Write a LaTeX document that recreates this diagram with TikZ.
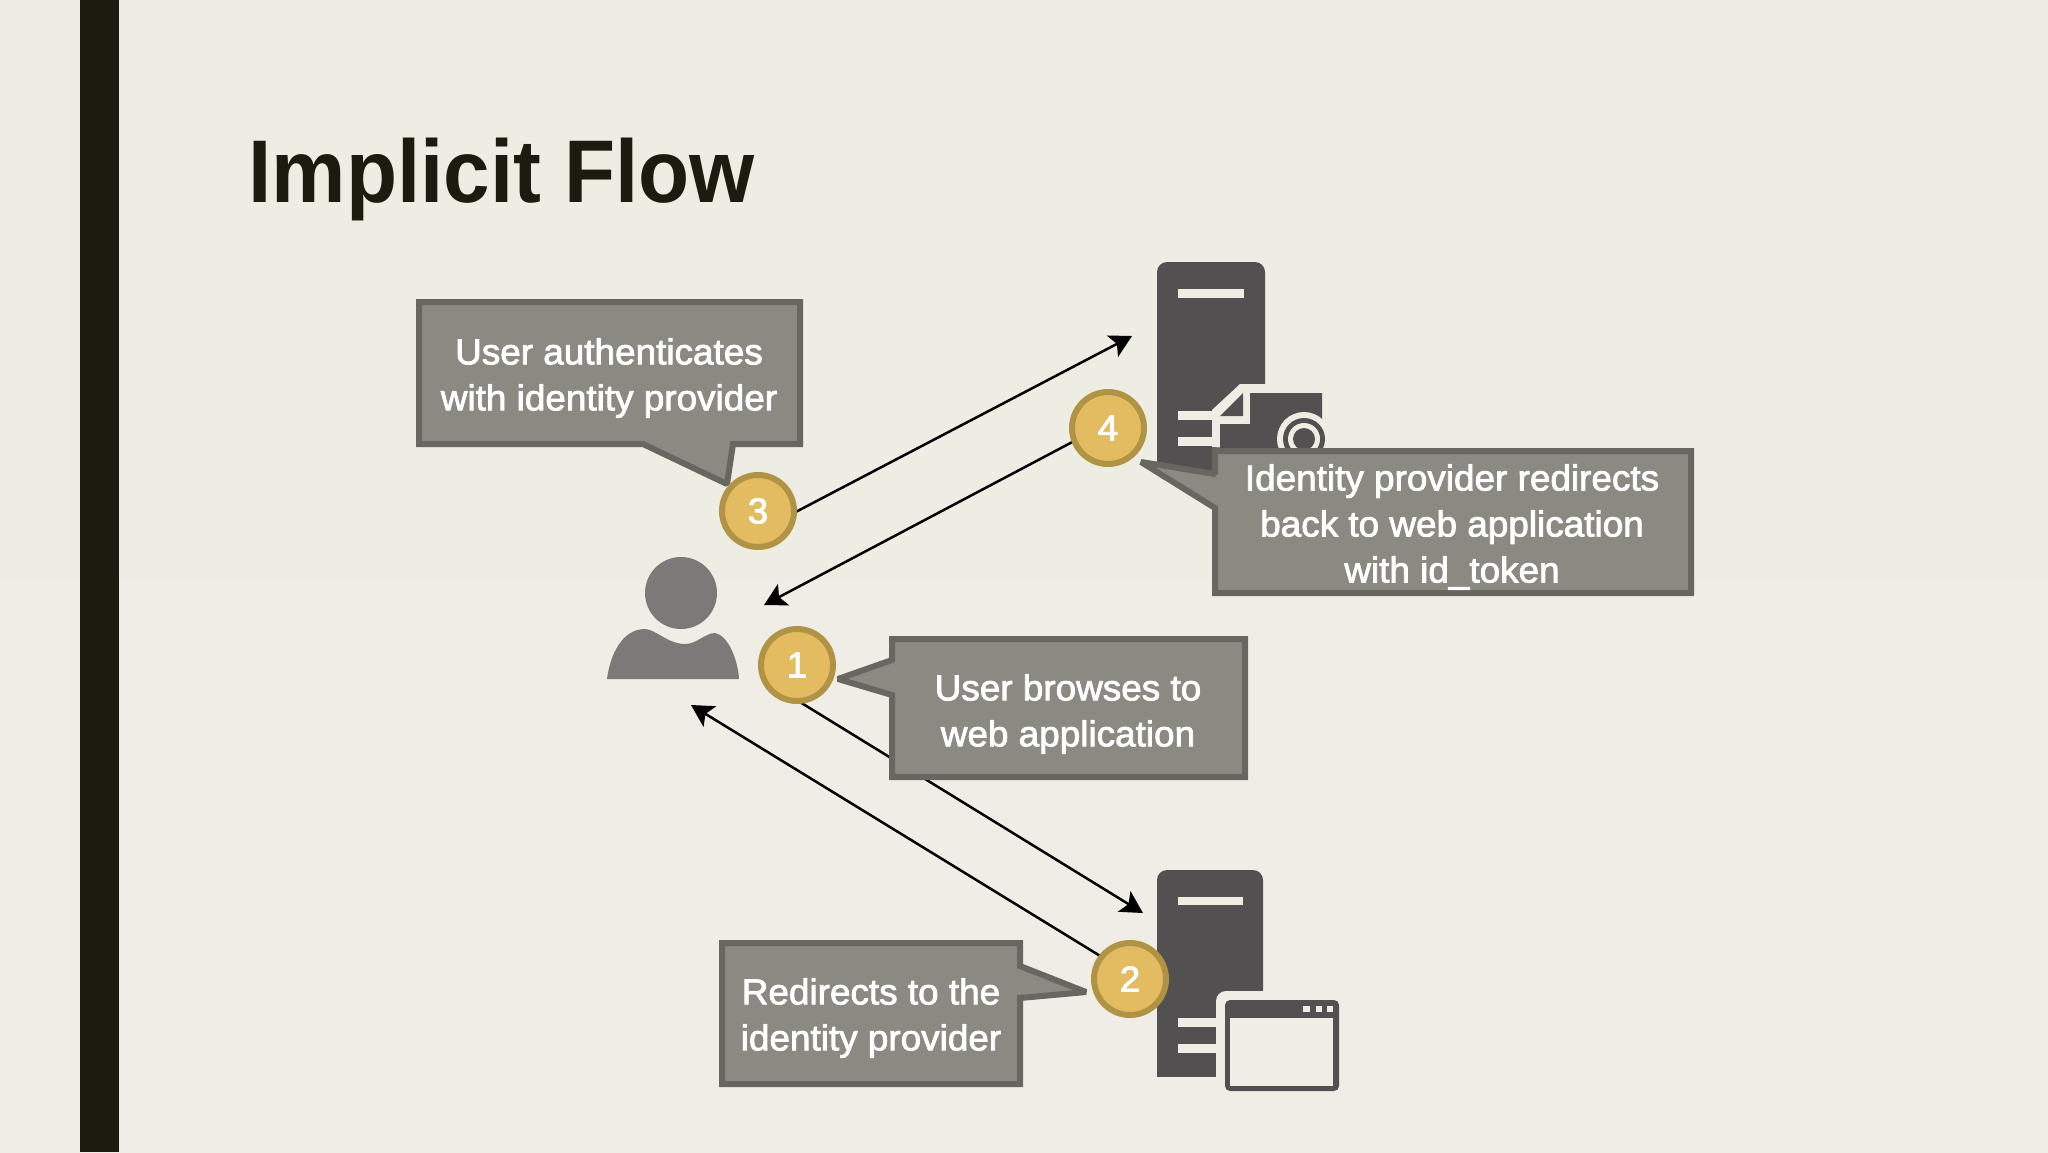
\documentclass[tikz,border=0pt]{standalone}
\usepackage{fontspec}
\setmainfont{Liberation Sans}[FakeStretch=1.025,FakeBold=2.2]
\newfontfamily\titlefont{Liberation Sans Bold}[FakeStretch=0.94]
\usetikzlibrary{arrows.meta}
\pgfdeclarelayer{back}
\pgfsetlayers{back,main}
\definecolor{bgc}{HTML}{EEEDE4}
\definecolor{bgb}{HTML}{EFEDE6}
\definecolor{bgt}{HTML}{EEEDE3}
\definecolor{barc}{HTML}{1D1B10}
\definecolor{titlec}{HTML}{1D1B10}
\definecolor{boxfill}{HTML}{8A8982}
\definecolor{boxline}{HTML}{686660}
\definecolor{coin}{HTML}{E3BC62}
\definecolor{coinline}{HTML}{B19345}
\definecolor{srv}{HTML}{525050}
\definecolor{pers}{HTML}{7B7A78}
\tikzset{
  callout/.style={draw=boxline,fill=boxfill,line width=3pt,line join=miter,miter limit=1.5},
  calltext/.style={text=white,align=center,font=\fontsize{18}{23}\selectfont,inner sep=0pt},
  coinnode/.style={circle,draw=coinline,fill=coin,line width=3pt,minimum size=36pt,inner sep=0pt,outer sep=0pt,text=white,font=\fontsize{18}{22}\selectfont},
  flow/.style={draw=black,line width=1.25pt,-{Stealth[length=11pt,width=12pt,inset=2.5pt]}},
  srvfill/.style={fill=srv,draw=none},
  lightfill/.style={fill=bgc,draw=none}
}
\begin{document}
\begin{tikzpicture}[x=0.5pt,y=-0.5pt]
\useasboundingbox (0,0) rectangle (2048,1152);
\begin{pgfonlayer}{back}
\shade[top color=bgt,bottom color=bgb] (0,0) rectangle (2048,1152);
\fill[barc] (80,0) rectangle (119,1152);
\end{pgfonlayer}
\node[anchor=base west,inner sep=0pt,text=titlec,font=\fontsize{44.5}{50}\selectfont\titlefont] (title) at (248,202) {Implicit Flow};
% server 1
\fill[srvfill,rounded corners=5pt] (1157,480) -- (1157,262) -- (1265,262) -- (1265,480) -- cycle;
\fill[lightfill] (1178,289) rectangle (1244,298);
\fill[lightfill] (1178,411) rectangle (1220,420);
\fill[lightfill] (1178,437) rectangle (1220,446);
\fill[lightfill] (1212,447) -- (1212,410) -- (1240,384) -- (1270,384) -- (1270,450) -- cycle;
\fill[srvfill] (1243,393) -- (1243,416) -- (1220,416) -- cycle;
\fill[srvfill] (1220,450) -- (1220,424) -- (1250,424) -- (1250,393) -- (1322,393) -- (1322,450) -- cycle;
\fill[lightfill] (1304,439) circle[radius=13.5pt];
\fill[srvfill] (1304,439) circle[radius=10.5pt];
\fill[lightfill] (1304,439) circle[radius=8pt];
\fill[srvfill] (1304,439) circle[radius=5.5pt];
% server 2
\fill[srvfill,rounded corners=5pt] (1157,1060) -- (1157,870) -- (1263,870) -- (1263,1060) -- cycle;
\fill[srvfill] (1157,1050) rectangle (1263,1077);
\fill[lightfill] (1178,897) rectangle (1243,905);
\fill[lightfill] (1178,1018) rectangle (1216,1027);
\fill[lightfill] (1178,1044) rectangle (1216,1053);
\fill[bgb,rounded corners=5pt] (1216,1090) -- (1216,991) -- (1275,991) -- (1275,1090) -- cycle;
\fill[srvfill,rounded corners=2.5pt] (1225,1000) rectangle (1339,1091);
\fill[bgb] (1230,1018) rectangle (1333,1086);
\fill[lightfill] (1303,1006) rectangle (1310,1012);
\fill[lightfill] (1316,1006) rectangle (1322,1012);
\fill[lightfill] (1327,1006) rectangle (1333,1012);
% person
\fill[pers] (681,593) circle[radius=18pt];
\fill[pers] (607,679) .. controls (610,655) and (622,629) .. (645,629) .. controls (655,629) and (668,644) .. (685,644) .. controls (697,644) and (705,633) .. (715,633) .. controls (728,635) and (738,660) .. (739,679) -- cycle;
% callouts
\draw[callout] (419,302) -- (800,302) -- (800,444) -- (733,444) -- (727,484) -- (643,444) -- (419,444) -- cycle;
\draw[callout] (892,639) -- (1245,639) -- (1245,777) -- (892,777) -- (892,695) -- (838,679) -- (892,660) -- cycle;
\draw[callout] (1215,451) -- (1691,451) -- (1691,593) -- (1215,593) -- (1215,508) -- (1141,462) -- (1215,474) -- cycle;
\draw[callout] (722,943) -- (1020,943) -- (1020,966) -- (1086,992) -- (1020,998) -- (1020,1084) -- (722,1084) -- cycle;
\node[calltext] (t3) at (609,378) {User authenticates\\with identity provider};
\node[calltext] (t1) at (1068,714) {User browses to\\web application};
\node[calltext] (t4) at (1452,527) {Identity provider redirects\\back to web application\\with id\_token};
\node[calltext] (t2) at (871,1018) {Redirects to the\\identity provider};
% step coins
\node[coinnode] (c3) at (758,511) {3};
\node[coinnode] (c1) at (797,665) {1};
\node[coinnode] (c4) at (1108,428) {4};
\node[coinnode] (c2) at (1130,979) {2};
\coordinate (e3) at (1132,336);
\coordinate (e4) at (764,605);
\coordinate (e1) at (1143,913);
\coordinate (e2) at (691,705);
\begin{pgfonlayer}{back}
\draw[flow] (c3.-3) -- (e3);
\draw[flow] (c4.201.5) -- (e4);
\draw[flow] (c1.-88) -- (e1);
\draw[flow] (c2.142) -- (e2);
\end{pgfonlayer}
\end{tikzpicture}
\end{document}
